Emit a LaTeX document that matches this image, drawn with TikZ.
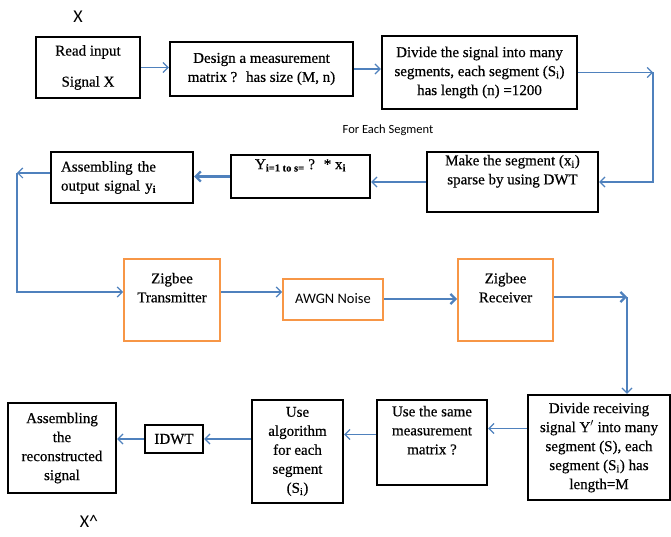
\documentclass[tikz,border=0pt]{standalone}
\usepackage{fontspec}
\setmainfont{Liberation Serif}[FakeBold=0.5]
\newfontfamily\sansfnt{Carlito}
\usetikzlibrary{arrows.meta}
\definecolor{arrblue}{RGB}{79,129,189}
\definecolor{boxorange}{RGB}{247,150,70}

\begin{document}
\begin{tikzpicture}[x=1pt, y=-1pt,
    box/.style={draw, line width=2.4pt, align=center, inner sep=2pt, font=\fontsize{15}{19}\selectfont},
    obox/.style={box, draw=boxorange, line width=2pt},
    arr/.style={-{Straight Barb[length=5pt,width=10pt]}, draw=arrblue, line width=1.2pt},
    tarr/.style={arr, line width=2.2pt},
    lbl/.style={font=\sansfnt\fontsize{18}{20}\selectfont, inner sep=0pt}
]
\useasboundingbox (0,0) rectangle (671,537);

% first row
\node[box, minimum width=104pt, minimum height=61pt] (read) at (88,67.5) {Read input\\[12pt]Signal X};
\node[box, minimum width=183pt, minimum height=54pt] (design) at (261.5,69) {Design a measurement\\matrix ?~ has size (M, n)};
\node[box, minimum width=195pt, minimum height=73pt] (divide) at (479.5,72.5) {Divide the signal into many\\segments, each segment (S\textsubscript{i})\\has length (n) =1200};

% second row
\node[box, minimum width=171pt, minimum height=60pt] (make) at (512.5,182) {Make the segment (x\textsubscript{i})\\sparse by using DWT\\\strut};
\node[box, minimum width=139pt, minimum height=43pt] (ymul) at (300.5,176.5) {Y\textsubscript{\textbf{i=1 to s=}} ?~ * x\textsubscript{\textbf{i}}\\\strut};
\node[box, minimum width=142pt, minimum height=51pt, text width=122pt, align=left] (asmout) at (122,177.5) {Assembling the\\output signal y\textsubscript{\textbf{i}}};

% channel
\node[obox, minimum width=96pt, minimum height=82pt] (tx) at (172,300) {Zigbee\\Transmitter\\\strut};
\node[obox, minimum width=100pt, minimum height=41pt, font=\sansfnt\fontsize{14.5}{16}\selectfont] (awgn) at (333,299) {AWGN Noise};
\node[obox, minimum width=95pt, minimum height=82pt] (rx) at (505.5,300) {Zigbee\\Receiver\\\strut};

% receiver side
\node[box, minimum width=142pt, minimum height=105pt] (divrx) at (599,447.5) {Divide receiving\\signal Y$^{\prime}$ into many\\segment (S), each\\segment (S\textsubscript{i}) has\\length=M};
\node[box, minimum width=110pt, minimum height=85pt] (same) at (432,442.5) {Use the same\\measurement\\matrix ?\\\strut};
\node[box, minimum width=91pt, minimum height=103pt] (algo) at (297.5,451.5) {Use\\algorithm\\for each\\segment\\(S\textsubscript{i})};
\node[box, minimum width=58pt, minimum height=28pt] (idwt) at (174,439) {IDWT};
\node[box, minimum width=108pt, minimum height=90pt] (asmrec) at (62,448) {Assembling\\the\\reconstructed\\signal};

% labels
\node[lbl] (xin) at (78,17) {X};
\node[lbl] (xout) at (89,521) {X\textasciicircum};
\node[lbl, font=\sansfnt\fontsize{12.5}{14}\selectfont] (seg) at (388,130) {For Each Segment};

\coordinate (c1) at (653,72.5);
\coordinate (c3) at (17,173);
\coordinate (c4) at (627,297);

\draw[arr] (read.east) -- (read.east -| design.west);
\draw[arr] (design.east) -- (design.east -| divide.west);
\draw[arr] (divide.east) -- (c1);
\draw[arr] (c1) |- (make.east);
\draw[arr] (make.west) -- (make.west -| ymul.east);
\draw[tarr] (ymul.west) -- (ymul.west -| asmout.east);
\draw[arr] (asmout.west |- c3) -- (c3);
\draw[arr] (c3) |- ([yshift=8pt]tx.west);
\draw[arr] ([yshift=8pt]tx.east) -- ([yshift=8pt]tx.east -| awgn.west);
\draw[tarr] (awgn.east) -- (awgn.east -| rx.west);
\draw[tarr] (rx.east |- c4) -- (c4);
\draw[arr] (c4) -- (c4 |- divrx.north);
\draw[arr] ([yshift=19pt]divrx.west) -- ([yshift=19pt]divrx.west -| same.east);
\draw[arr] ([yshift=8pt]same.west) -- ([yshift=8pt]same.west -| algo.east);
\draw[arr] (idwt.east -| algo.west) -- (idwt.east);
\draw[arr] (idwt.west) -- (idwt.west -| asmrec.east);
\end{tikzpicture}
\end{document}
